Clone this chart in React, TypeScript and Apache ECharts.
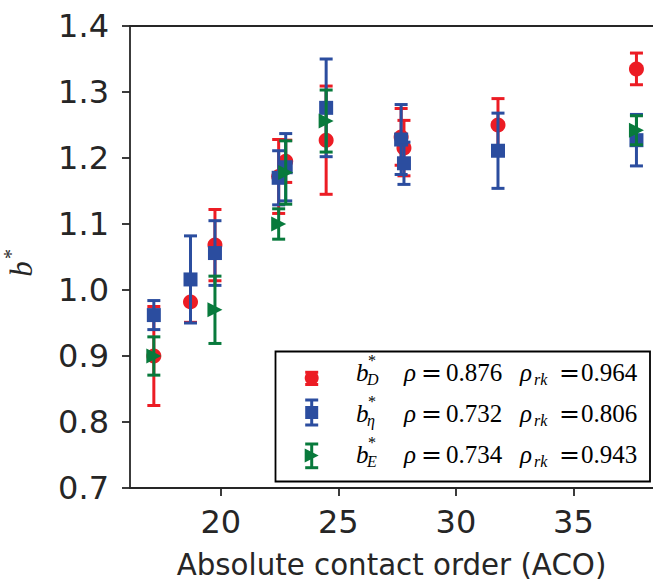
import React, { useEffect, useRef } from "react";
import * as echarts from "echarts";

// ---- data ----
const X_TICKS = [20, 25, 30, 35];
const Y_TICKS = [0.7, 0.8, 0.9, 1.0, 1.1, 1.2, 1.3, 1.4];

const acoD = [17.15, 18.71, 19.75, 22.46, 22.76, 24.48, 27.67, 27.79, 31.79, 37.68];
const bD = [0.9, 0.982, 1.068, 1.172, 1.195, 1.227, 1.232, 1.215, 1.25, 1.335];
const errD = [0.075, 0.031, 0.054, 0.056, 0.032, 0.082, 0.043, 0.042, 0.04, 0.024];

const acoEta = [17.15, 18.71, 19.75, 22.46, 22.76, 24.48, 27.67, 27.79, 31.79, 37.68];
const bEta = [0.962, 1.016, 1.056, 1.17, 1.186, 1.276, 1.228, 1.192, 1.211, 1.227];
const errEta = [0.022, 0.066, 0.049, 0.041, 0.051, 0.074, 0.053, 0.032, 0.057, 0.039];

const acoE = [17.15, 19.75, 22.46, 22.76, 24.48, 37.68];
const bE = [0.9, 0.97, 1.1, 1.178, 1.256, 1.242];
const errE = [0.029, 0.051, 0.023, 0.048, 0.047, 0.022];

const legendSubs = ["D", "η", "E"];
const rhoValues = ["0.876", "0.732", "0.734"];
const rhoRkValues = ["0.964", "0.806", "0.943"];

// ---- style ----
const RED = "#ec1c24";
const BLUE = "#2b4d9f";
const GREEN = "#087a3c";
const AX = "#262626";
const SANS = '"DejaVu Sans", sans-serif';
const SERIF = '"Liberation Serif", serif';
const X_MIN = 16.136;
const X_MAX = 38.384;

type Shape = "circle" | "square" | "triangle";

function markerEl(shape: Shape, cx: number, cy: number, color: string, s = 15) {
  const h = s / 2;
  if (shape === "circle") {
    return { type: "circle", shape: { cx, cy, r: h }, style: { fill: color } };
  }
  if (shape === "square") {
    return { type: "rect", shape: { x: cx - h + 0.5, y: cy - h + 0.5, width: s - 1, height: s - 1 }, style: { fill: color } };
  }
  return {
    type: "polygon",
    shape: { points: [[cx - h, cy - h], [cx + h, cy], [cx - h, cy + h]] },
    style: { fill: color },
  };
}

function errBarEls(cx: number, yTop: number, yBot: number, color: string, cap = 6.5, lw = 3) {
  const st = { stroke: color, lineWidth: lw };
  return [
    { type: "line", shape: { x1: cx, y1: yTop, x2: cx, y2: yBot }, style: st },
    { type: "line", shape: { x1: cx - cap, y1: yTop, x2: cx + cap, y2: yTop }, style: st },
    { type: "line", shape: { x1: cx - cap, y1: yBot, x2: cx + cap, y2: yBot }, style: st },
  ];
}

function makeSeries(name: string, xs: number[], ys: number[], es: number[], color: string, shape: Shape) {
  return {
    type: "custom",
    name,
    xAxisIndex: 0,
    yAxisIndex: 0,
    clip: false,
    dimensions: ["x", "y", "err"],
    encode: { x: 0, y: 1 },
    data: xs.map((x, i) => [x, ys[i], es[i]]),
    renderItem: (_p: any, api: any) => {
      const x = api.value(0);
      const y = api.value(1);
      const e = api.value(2);
      const c = api.coord([x, y]);
      const t = api.coord([x, y + e]);
      const b = api.coord([x, y - e]);
      return {
        type: "group",
        children: [...errBarEls(c[0], t[1], b[1], color), markerEl(shape, c[0], c[1], color)],
      };
    },
  };
}

function legendGraphics() {
  const els: any[] = [];
  els.push({
    type: "rect",
    z: 100,
    shape: { x: 275.5, y: 351.5, width: 374.5, height: 130 },
    style: { fill: "#fff", stroke: "#000", lineWidth: 1.8 },
  });
  const colors = [RED, BLUE, GREEN];
  const shapes: Shape[] = ["circle", "square", "triangle"];
  const caps = [[372.3, 384.5], [400, 425], [444, 467.7]];
  const mcy = [378, 412.5, 455.5];
  const base = [381, 421.7, 463.3];
  const hx = 311.7;
  const fs = 25;
  const sfs = 16;
  const mid = (bl: number, f: number) => bl - 0.3375 * f;
  for (let r = 0; r < 3; r++) {
    const col = colors[r];
    const g: any[] = [...errBarEls(hx, caps[r][0], caps[r][1], col, 6.5, 3), markerEl(shapes[r], hx, mcy[r], col, 14)];
    g.forEach((e) => { e.z = 101; els.push(e); });
    const bl = base[r];
    const txt = (text: string, x: number, y: number, size: number, italic: boolean, family = SERIF) => ({
      type: "text",
      z: 102,
      x,
      y,
      style: {
        text,
        font: `${italic ? "italic " : ""}${size}px ${family}`,
        fill: "#000",
        align: "left",
        verticalAlign: "middle",
        lineHeight: size,
      },
    });
    els.push(txt("b", 356, mid(bl, fs), fs, true));
    els.push(txt("*", 368, mid(bl - 15, sfs), sfs, false));
    els.push(txt(legendSubs[r], 367, mid(bl + 4, sfs), sfs, true));
    els.push(txt("ρ", 404, mid(bl, fs), fs, true));
    els.push(txt("=", 421, mid(bl, fs), fs, false, '"DejaVu Serif", serif'));
    els.push(txt(rhoValues[r], 446, mid(bl, fs), fs, false));
    els.push(txt("ρ", 520, mid(bl, fs), fs, true));
    els.push(txt("rk", 534, mid(bl + 4, sfs), sfs, true));
    els.push(txt("=", 559, mid(bl, fs), fs, false, '"DejaVu Serif", serif'));
    els.push(txt(rhoRkValues[r], 581, mid(bl, fs), fs, false));
  }
  return els;
}

export default function App() {
  const ref = useRef<HTMLDivElement>(null);
  useEffect(() => {
    if (!ref.current) return;
    const chart = echarts.init(ref.current, null, { renderer: "svg" });
    const axisLine = { show: true, onZero: false, lineStyle: { color: AX, width: 1.8 } };
    const tickStyle = { color: AX, width: 1.8 };
    chart.setOption({
      animation: false,
      backgroundColor: "#fff",
      grid: { left: 130, top: 26, right: -1, bottom: 88, containLabel: false },
      xAxis: [
        {
          type: "value",
          position: "bottom",
          min: X_MIN,
          max: X_MAX,
          axisLine,
          axisTick: { show: true, inside: false, length: 8, lineStyle: tickStyle, customValues: X_TICKS },
          axisLabel: {
            customValues: X_TICKS,
            formatter: (v: number) => String(Math.round(v)),
            fontSize: 32,
            fontFamily: SANS,
            color: AX,
            margin: 18,
          },
          splitLine: { show: false },
          name: "Absolute contact order (ACO)",
          nameLocation: "middle",
          nameGap: 62,
          nameTextStyle: { fontSize: 29.3, fontFamily: SANS, color: AX },
        },
        {
          type: "value",
          position: "top",
          min: X_MIN,
          max: X_MAX,
          axisLine,
          axisTick: { show: false },
          axisLabel: { show: false },
          splitLine: { show: false },
        },
      ],
      yAxis: {
        type: "value",
        min: 0.7,
        max: 1.4,
        axisLine,
        axisTick: { show: true, inside: false, length: 8, lineStyle: tickStyle, customValues: Y_TICKS },
        axisLabel: {
          customValues: Y_TICKS,
          formatter: (v: number) => v.toFixed(1),
          fontSize: 32,
          fontFamily: SANS,
          color: AX,
          margin: 21,
        },
        splitLine: { show: false },
      },
      series: [
        makeSeries("bD", acoD, bD, errD, RED, "circle"),
        makeSeries("bEta", acoEta, bEta, errEta, BLUE, "square"),
        makeSeries("bE", acoE, bE, errE, GREEN, "triangle"),
      ],
      graphic: [
        {
          type: "group",
          x: 21,
          y: 269,
          rotation: Math.PI / 2,
          children: [
            {
              type: "text",
              x: 0,
              y: 0,
              style: { text: "b", font: `italic 31px ${SERIF}`, fill: AX, align: "center", verticalAlign: "middle" },
            },
            {
              type: "text",
              x: 15,
              y: -10,
              style: { text: "*", font: `20px ${SERIF}`, fill: AX, align: "center", verticalAlign: "middle" },
            },
          ],
        },
        ...legendGraphics(),
      ],
    });
    return () => chart.dispose();
  }, []);
  return (
    <div
      ref={ref}
      style={{ position: "fixed", left: 0, top: 0, width: 653, height: 584, background: "#fff" }}
    />
  );
}
